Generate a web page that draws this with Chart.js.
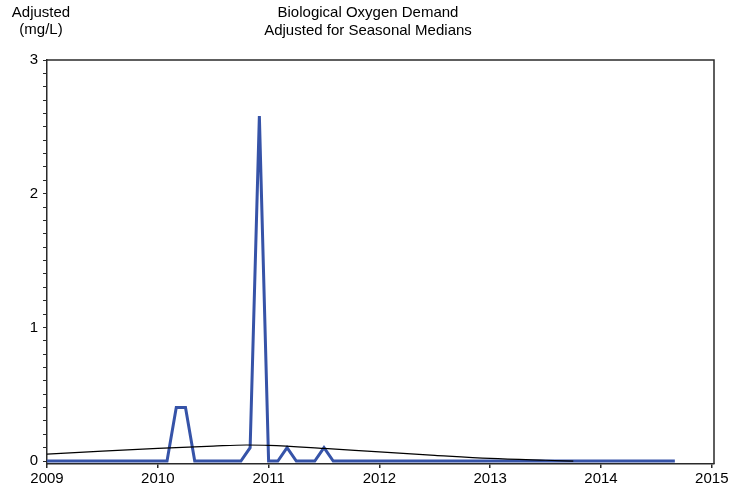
<!DOCTYPE html>
<html>
<head>
<meta charset="utf-8">
<script src="https://cdn.jsdelivr.net/npm/chart.js@4.4.1/dist/chart.umd.min.js"></script>
<style>
  body { margin: 0; background: #fff; }
  canvas { display: block; }
</style>
</head>
<body>
<canvas id="chart" width="743" height="492"></canvas>
<script>
// monthly adjusted BOD, starting Jan 2009
const startYear = 2009;
const adjustedValues = [
  0, 0, 0, 0, 0, 0, 0, 0, 0, 0, 0, 0,
  0, 0, 0.40, 0.40, 0, 0, 0, 0, 0, 0, 0.10, 2.58,
  0, 0, 0.10, 0, 0, 0, 0.10, 0, 0, 0, 0, 0,
  0, 0, 0, 0, 0, 0, 0, 0, 0, 0, 0, 0,
  0, 0, 0, 0, 0, 0, 0, 0, 0, 0, 0, 0,
  0, 0, 0, 0, 0, 0, 0, 0, 0
];

// smooth trend line
const trendYears = [2009.0, 2009.5, 2010.0, 2010.5, 2010.8, 2011.0, 2011.5, 2012.0, 2012.5, 2013.0, 2013.5, 2013.75];
const trendValues = [0.052, 0.075, 0.095, 0.112, 0.12, 0.118, 0.095, 0.068, 0.043, 0.02, 0.006, 0.0];

const xTicks = [2009, 2010, 2011, 2012, 2013, 2014, 2015];
const yLabels = [0, 1, 2, 3];

const titleLines = ['Biological Oxygen Demand', 'Adjusted for Seasonal Medians'];
const yTitleLines = ['Adjusted', '(mg/L)'];

const FONT = '"Liberation Sans", Arial, sans-serif';
const AXIS = '#2a2a2a';

const bluePoints = adjustedValues.map((v, i) => ({ x: startYear + i / 12, y: v }));
const trendPoints = trendYears.map((x, i) => ({ x, y: trendValues[i] }));

const yMinor = [];
for (let i = 0; i <= 30; i++) yMinor.push(i / 10);

const decorations = {
  id: 'decorations',
  afterDraw(chart) {
    const { ctx, chartArea } = chart;
    ctx.save();
    // top and right frame
    ctx.strokeStyle = AXIS;
    ctx.lineWidth = 1.5;
    ctx.beginPath();
    ctx.moveTo(chartArea.left, chartArea.top);
    ctx.lineTo(chartArea.right, chartArea.top);
    ctx.lineTo(chartArea.right, chartArea.bottom);
    ctx.stroke();

    ctx.fillStyle = '#000';
    ctx.font = '15px ' + FONT;
    ctx.textAlign = 'center';
    ctx.textBaseline = 'alphabetic';
    ctx.fillText(titleLines[0], 368, 17);
    ctx.fillText(titleLines[1], 368, 35);
    ctx.fillText(yTitleLines[0], 41, 17);
    ctx.fillText(yTitleLines[1], 41, 34);
    ctx.restore();
  }
};

new Chart(document.getElementById('chart'), {
  type: 'line',
  data: {
    datasets: [
      {
        data: trendPoints,
        borderColor: '#000',
        borderWidth: 1.2,
        pointRadius: 0,
        cubicInterpolationMode: 'monotone',
        fill: false,
      },
      {
        data: bluePoints,
        borderColor: '#3653A8',
        borderWidth: 3,
        pointRadius: 0,
        tension: 0,
        fill: false,
      },
    ],
  },
  options: {
    responsive: false,
    animation: false,
    layout: { padding: { top: 60, right: 29, left: 0, bottom: 0 } },
    plugins: {
      legend: { display: false },
      tooltip: { enabled: false },
    },
    scales: {
      x: {
        type: 'linear',
        min: 2009,
        max: 2015.02,
        afterBuildTicks: (scale) => { scale.ticks = xTicks.map(v => ({ value: v })); },
        afterFit: (scale) => { scale.height = 28; },
        grid: { drawOnChartArea: false, drawTicks: true, tickLength: 4, color: AXIS, lineWidth: 1.5 },
        border: { display: true, color: AXIS, width: 1.5 },
        ticks: {
          autoSkip: false,
          maxRotation: 0,
          padding: 2,
          color: '#000',
          font: { family: FONT, size: 15 },
          callback: (v) => String(v),
        },
      },
      y: {
        min: -0.022,
        max: 3,
        afterBuildTicks: (scale) => { scale.ticks = yMinor.map(v => ({ value: v })); },
        afterFit: (scale) => { scale.width = 47; },
        grid: { drawOnChartArea: false, drawTicks: true, tickLength: 4, color: AXIS, lineWidth: 1 },
        border: { display: true, color: AXIS, width: 1.5 },
        ticks: {
          autoSkip: false,
          padding: 5,
          color: '#000',
          font: { family: FONT, size: 15 },
          callback: (v) => (yLabels.includes(Math.round(v * 10) / 10) ? String(Math.round(v)) : ''),
        },
      },
    },
  },
  plugins: [decorations],
});
</script>
</body>
</html>
